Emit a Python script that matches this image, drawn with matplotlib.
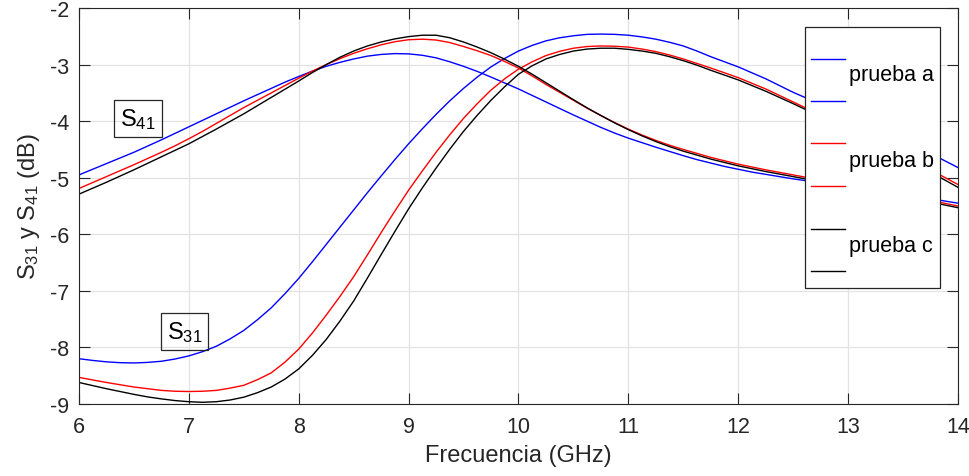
import matplotlib
matplotlib.use("Agg")
import matplotlib.pyplot as plt
from matplotlib.patches import Rectangle
import numpy as np

plt.rcParams["font.family"] = ["Liberation Sans", "DejaVu Sans"]
plt.rcParams["mathtext.fontset"] = "custom"
plt.rcParams["mathtext.rm"] = "Liberation Sans"
plt.rcParams["mathtext.it"] = "Liberation Sans:italic"

# Frequency points (GHz), read every 0.125 GHz
freq = np.arange(6.0, 14.001, 0.125)

# S41 curves (dB)
s41_a = [-4.95, -4.85, -4.75, -4.65, -4.55, -4.44, -4.33, -4.215, -4.10, -3.985, -3.87, -3.755,
         -3.64, -3.53, -3.42, -3.31, -3.21, -3.115, -3.03, -2.96, -2.90, -2.85, -2.82, -2.805,
         -2.81, -2.835, -2.88, -2.95, -3.03, -3.12, -3.22, -3.325, -3.43, -3.545, -3.66, -3.775,
         -3.89, -4.00, -4.11, -4.21, -4.30, -4.38, -4.46, -4.535, -4.61, -4.68, -4.74, -4.80,
         -4.85, -4.90, -4.94, -4.98, -5.02, -5.055, -5.09, -5.125, -5.16, -5.195, -5.23, -5.265,
         -5.30, -5.335, -5.37, -5.41, -5.45]
s41_b = [-5.19, -5.085, -4.98, -4.875, -4.77, -4.66, -4.55, -4.435, -4.31, -4.18, -4.04, -3.90,
         -3.76, -3.63, -3.50, -3.37, -3.24, -3.115, -3.00, -2.895, -2.80, -2.72, -2.65, -2.595,
         -2.56, -2.55, -2.565, -2.61, -2.68, -2.755, -2.84, -2.945, -3.06, -3.20, -3.35, -3.49,
         -3.63, -3.77, -3.90, -4.025, -4.14, -4.245, -4.34, -4.425, -4.50, -4.57, -4.64, -4.70,
         -4.76, -4.81, -4.86, -4.905, -4.95, -4.995, -5.04, -5.08, -5.12, -5.165, -5.21, -5.255,
         -5.30, -5.35, -5.40, -5.45, -5.50]
s41_c = [-5.29, -5.185, -5.08, -4.97, -4.86, -4.745, -4.63, -4.515, -4.40, -4.27, -4.14, -4.005,
         -3.87, -3.725, -3.58, -3.435, -3.29, -3.14, -3.00, -2.87, -2.76, -2.67, -2.60, -2.545,
         -2.505, -2.48, -2.48, -2.525, -2.60, -2.69, -2.79, -2.905, -3.03, -3.17, -3.32, -3.47,
         -3.62, -3.765, -3.90, -4.03, -4.15, -4.26, -4.36, -4.45, -4.53, -4.60, -4.67, -4.73,
         -4.79, -4.84, -4.89, -4.935, -4.98, -5.025, -5.07, -5.11, -5.15, -5.195, -5.24, -5.285,
         -5.33, -5.38, -5.43, -5.48, -5.53]

# S31 curves (dB)
s31_a = [-8.20, -8.23, -8.255, -8.27, -8.275, -8.265, -8.245, -8.205, -8.15, -8.075, -7.98, -7.85,
         -7.70, -7.51, -7.30, -7.05, -6.78, -6.485, -6.18, -5.875, -5.57, -5.265, -4.97, -4.68,
         -4.40, -4.135, -3.88, -3.64, -3.42, -3.22, -3.04, -2.89, -2.76, -2.66, -2.58, -2.525,
         -2.49, -2.465, -2.46, -2.465, -2.48, -2.51, -2.55, -2.605, -2.67, -2.76, -2.86, -2.95,
         -3.04, -3.145, -3.25, -3.37, -3.49, -3.595, -3.70, -3.805, -3.91, -4.015, -4.12, -4.23,
         -4.34, -4.455, -4.57, -4.695, -4.82]
s31_b = [-8.53, -8.575, -8.62, -8.66, -8.70, -8.73, -8.76, -8.775, -8.78, -8.775, -8.76, -8.72,
         -8.67, -8.57, -8.45, -8.26, -8.03, -7.745, -7.43, -7.10, -6.75, -6.365, -5.97, -5.59,
         -5.22, -4.88, -4.55, -4.24, -3.95, -3.69, -3.45, -3.25, -3.08, -2.95, -2.84, -2.765,
         -2.71, -2.68, -2.67, -2.675, -2.69, -2.725, -2.77, -2.83, -2.90, -2.98, -3.06, -3.145,
         -3.23, -3.33, -3.43, -3.545, -3.66, -3.775, -3.89, -4.005, -4.12, -4.235, -4.35, -4.475,
         -4.60, -4.73, -4.86, -4.99, -5.12]
s31_c = [-8.62, -8.675, -8.73, -8.78, -8.83, -8.875, -8.91, -8.94, -8.96, -8.97, -8.96, -8.93,
         -8.88, -8.80, -8.70, -8.56, -8.38, -8.14, -7.86, -7.535, -7.18, -6.775, -6.36, -5.95,
         -5.55, -5.18, -4.83, -4.495, -4.18, -3.895, -3.63, -3.39, -3.17, -3.02, -2.90, -2.82,
         -2.76, -2.725, -2.71, -2.71, -2.73, -2.76, -2.80, -2.86, -2.93, -3.01, -3.10, -3.185,
         -3.27, -3.37, -3.47, -3.58, -3.69, -3.805, -3.92, -4.035, -4.15, -4.27, -4.39, -4.515,
         -4.64, -4.77, -4.90, -5.035, -5.17]

labels = ["prueba a", "prueba b", "prueba c"]
colors = ["#0000ff", "#ff0000", "#000000"]
xticks = [6, 7, 8, 9, 10, 11, 12, 13, 14]
yticks = [-9, -8, -7, -6, -5, -4, -3, -2]

axis_col = "#262626"

fig = plt.figure(figsize=(9.7, 4.77), dpi=100)
ax = fig.add_axes([0.0814, 0.151, 0.9062, 0.830])

for s41, s31, c in zip([s41_a, s41_b, s41_c], [s31_a, s31_b, s31_c], colors):
    ax.plot(freq, s41, color=c, lw=1.0)
    ax.plot(freq, s31, color=c, lw=1.0)

ax.set_xlim(6, 14)
ax.set_ylim(-9, -2)
ax.set_xticks(xticks)
ax.set_yticks(yticks)
ax.set_xticklabels([str(t) for t in xticks])
ax.set_yticklabels([str(t) for t in yticks])
ax.grid(True, color="#e3e3e3", lw=0.9)
ax.set_axisbelow(True)
ax.tick_params(direction="in", length=8, width=0.8, top=True, right=True,
               labelsize=15.5, colors=axis_col, pad=7)
ax.tick_params(axis="x", pad=9)
for sp in ax.spines.values():
    sp.set_color(axis_col)
    sp.set_linewidth(0.8)

ax.set_xlabel("Frecuencia (GHz)", fontsize=17, color=axis_col, labelpad=5)
ax.set_ylabel(r"S$_\mathregular{31}$ y S$_\mathregular{41}$ (dB)", fontsize=17,
              color=axis_col, labelpad=6)

# text boxes
box = dict(boxstyle="square,pad=0.25", fc="none", ec=axis_col, lw=0.9)
ax.text(6.375, -3.95, r"S$_\mathregular{41}$", fontsize=17, ha="left", va="center", bbox=box)
ax.text(6.80, -7.72, r"S$_\mathregular{31}$", fontsize=17, ha="left", va="center", bbox=box)

# legend drawn by hand: two line samples per entry
lx, ly, lw_, lh = 0.826, 0.293, 0.1536, 0.659
ax.add_patch(Rectangle((lx, ly), lw_, lh, transform=ax.transAxes, fc="white",
                       ec=axis_col, lw=0.9, zorder=5))
line_pairs = [(0.872, 0.766), (0.659, 0.551), (0.443, 0.335)]
text_y = [0.832, 0.616, 0.400]
for (y1, y2), ty, c, lab in zip(line_pairs, text_y, colors, labels):
    for yy in (y1, y2):
        ax.plot([0.833, 0.872], [yy, yy], color=c, lw=1.0, transform=ax.transAxes,
                zorder=6, clip_on=False)
    ax.text(0.876, ty, lab, fontsize=15.5, color="black", ha="left", va="center",
            transform=ax.transAxes, zorder=6)

fig.savefig("out.png", dpi=100)
